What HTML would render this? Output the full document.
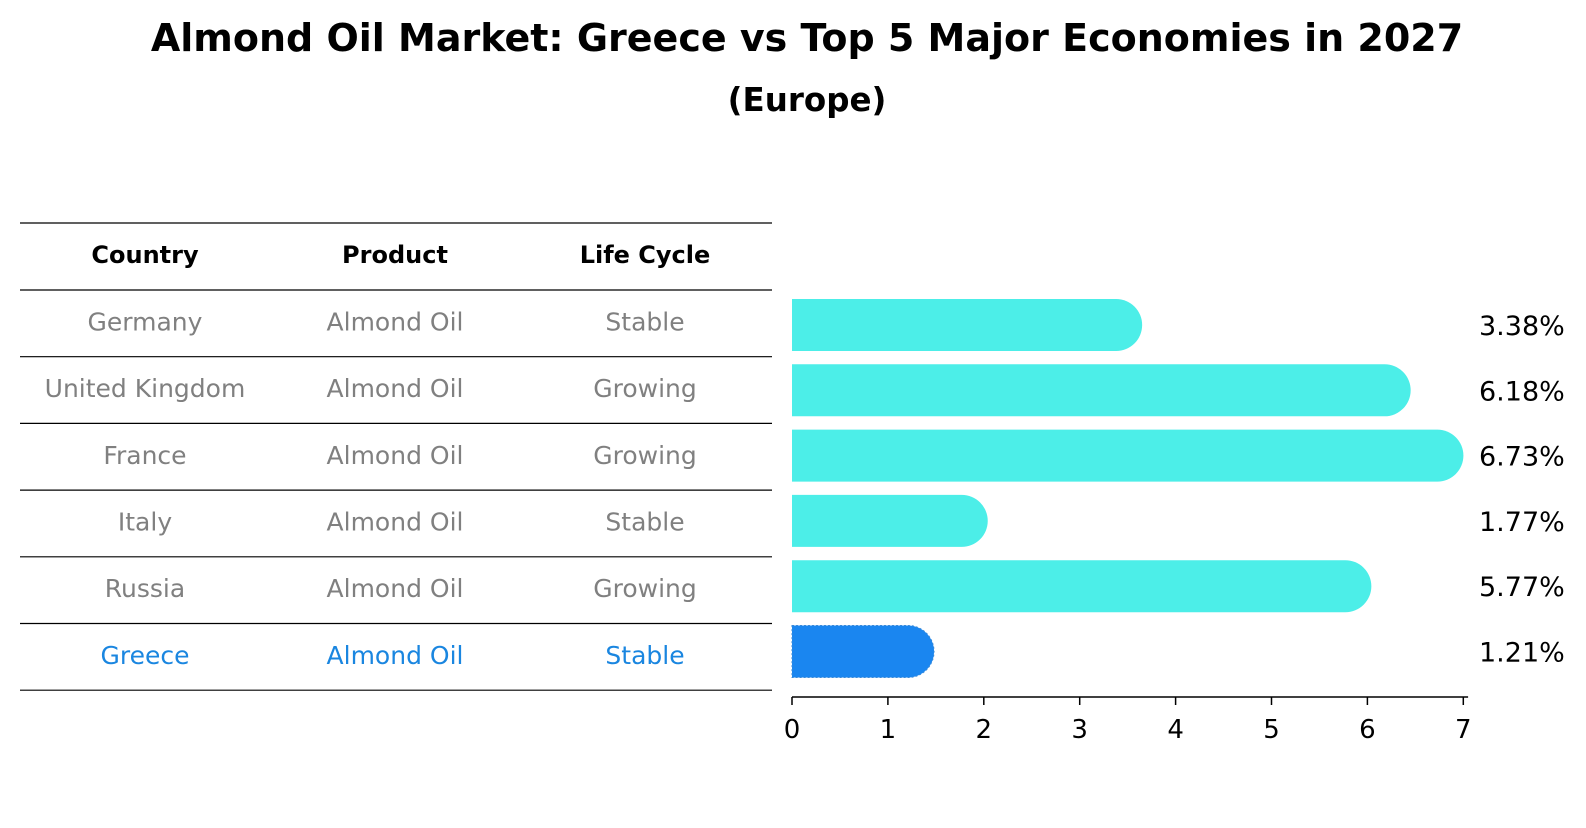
<!DOCTYPE html>
<html><head><meta charset="utf-8"><style>
body{margin:0;background:#fff;font-family:"Liberation Sans","DejaVu Sans",sans-serif}
svg text{font-family:"DejaVu Sans","Liberation Sans",sans-serif}
</style></head><body>
<svg id="c" width="1586" height="823" xmlns="http://www.w3.org/2000/svg">
<text x="807" y="51" text-anchor="middle" font-size="38" font-weight="bold">Almond Oil Market: Greece vs Top 5 Major Economies in 2027</text>
<text x="807" y="111" text-anchor="middle" font-size="32.5" font-weight="bold">(Europe)</text>
<g id="table"></g>
<g id="bars"></g>
</svg>
<script>
const countries=["Germany","United Kingdom","France","Italy","Russia","Greece"];
const products=["Almond Oil","Almond Oil","Almond Oil","Almond Oil","Almond Oil","Almond Oil"];
const lifecycle=["Stable","Growing","Growing","Stable","Growing","Stable"];
const values=[3.38,6.18,6.73,1.77,5.77,1.21];
const ticks=[0,1,2,3,4,5,6,7];
const NS="http://www.w3.org/2000/svg";
const x0=792,xs=95.9;
function X(v){return x0+v*xs;}
const rowTop=290,rowH=66.7;
function RowY(i){return rowTop+i*rowH+rowH/2;}
function BarY(i){return 325+i*65.3;}
const tbl=document.getElementById('table'),bars=document.getElementById('bars');
function mk(tag,attrs,parent){const e=document.createElementNS(NS,tag);for(const k in attrs)e.setAttribute(k,attrs[k]);parent.appendChild(e);return e;}
const cols=[145,395,645];
const heads=["Country","Product","Life Cycle"];
heads.forEach((h,j)=>{const t=mk('text',{x:cols[j],y:263,'text-anchor':'middle','font-size':24,'font-weight':'bold'},tbl);t.textContent=h;

});
for(let k=0;k<=countries.length+1;k++){const y=k==0?223:rowTop+(k-1)*rowH;const l=mk('line',{x1:20,x2:772,y1:y,y2:y,stroke:'#000','stroke-width':1.2},tbl);

}
countries.forEach((c,i)=>{const col=c==="Greece"?"#1a86e0":"#808080";[c,products[i],lifecycle[i]].forEach((s,j)=>{const t=mk('text',{x:cols[j],y:RowY(i)+7,'text-anchor':'middle','font-size':25,fill:col},tbl);t.textContent=s;

});
const yc=BarY(i),h=52,r=26,xe=X(values[i]);
const isG=c==="Greece";
const p=mk('path',{d:`M${x0},${yc-h/2} L${xe},${yc-h/2} A${r},${r} 0 0 1 ${xe},${yc+h/2} L${x0},${yc+h/2} Z`,fill:isG?'#1a86f0':'#4ceee8',stroke:isG?'#3a8ad8':'none','stroke-dasharray':isG?'2,2':'none'},bars);


const t=mk('text',{x:1479,y:yc+10,'font-size':27},bars);t.textContent=values[i].toFixed(2)+'%';

});
const ax=mk('line',{x1:x0,x2:X(7.05),y1:697,y2:697,stroke:'#000','stroke-width':1.5},bars);


ticks.forEach(v=>{const l=mk('line',{x1:X(v),x2:X(v),y1:697,y2:705,stroke:'#000','stroke-width':1.5},bars);


const t=mk('text',{x:X(v),y:738,'text-anchor':'middle','font-size':26},bars);t.textContent=v;

});
</script>
</body></html>
